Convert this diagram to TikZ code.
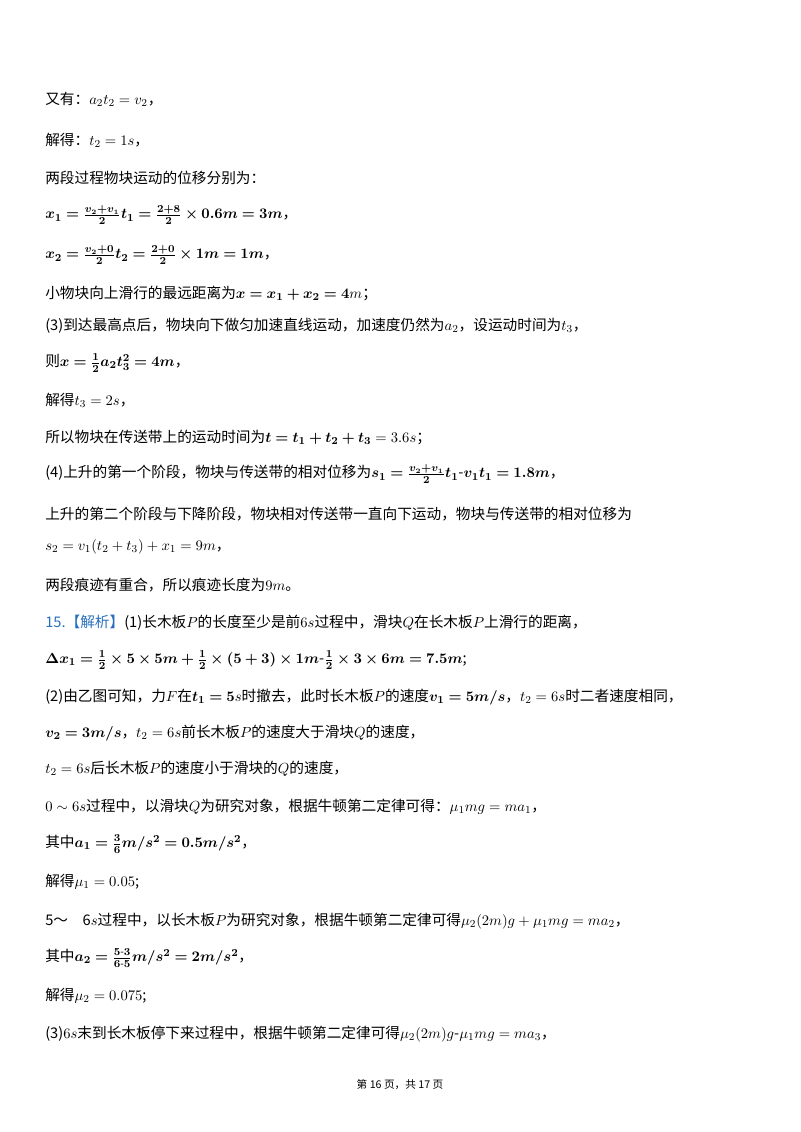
\documentclass[tikz,border=0pt]{standalone}
\usepackage{amsmath,bm}
\usepackage{fontspec}
\newfontfamily\cjk{Noto Sans CJK SC}
\definecolor{lblue}{RGB}{40,110,190}
\begin{document}
\begin{tikzpicture}[x=0.75pt,y=-0.75pt,
  ln/.style={anchor=west,inner sep=0pt,font=\cjk\fontsize{11}{13}\selectfont}]
\useasboundingbox (0,0) rectangle (800,1132);
\node[ln] (l1) at (45,99) {又有：$a_2t_2=v_2$，};
\node[ln] (l2) at (45,140) {解得：$t_2=1s$，};
\node[ln] (l3) at (45,178) {两段过程物块运动的位移分别为：};
\node[ln] (l4) at (45,215) {$\bm{x_1=\frac{v_2+v_1}{2}t_1=\frac{2+8}{2}\times0.6m=3m}$，};
\node[ln] (l5) at (45,255) {$\bm{x_2=\frac{v_2+0}{2}t_2=\frac{2+0}{2}\times1m=1m}$，};
\node[ln] (l6) at (45,293) {小物块向上滑行的最远距离为$\bm{x=x_1+x_2=4}m$；};
\node[ln] (l7) at (45,326) {(3)到达最高点后，物块向下做匀加速直线运动，加速度仍然为$a_2$，设运动时间为$t_3$，};
\node[ln] (l8) at (45,363) {则$\bm{x=\frac12a_2t_3^2=4m}$，};
\node[ln] (l9) at (45,400) {解得$t_3=2s$，};
\node[ln] (l10) at (45,437) {所以物块在传送带上的运动时间为$\bm{t=t_1+t_2+t_3}=3.6s$；};
\node[ln] (l11) at (45,474) {(4)上升的第一个阶段，物块与传送带的相对位移为$\bm{s_1=\frac{v_2+v_1}{2}t_1\text{-}v_1t_1=1.8m}$，};
\node[ln] (l12) at (45,514) {上升的第二个阶段与下降阶段，物块相对传送带一直向下运动，物块与传送带的相对位移为};
\node[ln] (l13) at (45,547) {$s_2=v_1(t_2+t_3)+x_1=9m$，};
\node[ln] (l14) at (45,585) {两段痕迹有重合，所以痕迹长度为$9m$。};
\node[ln] (l15) at (45,623) {{\color{lblue}15.【解析】}(1)长木板$P$的长度至少是前$6s$过程中，滑块$Q$在长木板$P$上滑行的距离，};
\node[ln] (l16) at (45,660) {$\bm{\Delta x_1=\frac12\times5\times5m+\frac12\times(5+3)\times1m\text{-}\frac12\times3\times6m=7.5m}$;};
\node[ln] (l17) at (45,697) {(2)由乙图可知，力$F$在$\bm{t_1=5}s$时撤去，此时长木板$P$的速度$\bm{v_1=5m/s}$，$t_2=6s$时二者速度相同，};
\node[ln] (l18) at (45,733) {$\bm{v_2=3m/s}$，$t_2=6s$前长木板$P$的速度大于滑块$Q$的速度，};
\node[ln] (l19) at (45,769) {$t_2=6s$后长木板$P$的速度小于滑块的$Q$的速度，};
\node[ln] (l20) at (45,807) {$0\sim6s$过程中，以滑块$Q$为研究对象，根据牛顿第二定律可得：$\mu_1mg=ma_1$，};
\node[ln] (l21) at (45,844) {其中$\bm{a_1=\frac36m/s^2=0.5m/s^2}$，};
\node[ln] (l22) at (45,882) {解得$\mu_1=0.05$;};
\node[ln] (l23) at (45,921) {5～\quad 6$s$过程中，以长木板$P$为研究对象，根据牛顿第二定律可得$\mu_2(2m)g+\mu_1mg=ma_2$，};
\node[ln] (l24) at (45,958) {其中$\bm{a_2=\frac{5\text{-}3}{6\text{-}5}m/s^2=2m/s^2}$，};
\node[ln] (l25) at (45,996) {解得$\mu_2=0.075$;};
\node[ln] (l26) at (45,1034) {(3)$6s$末到长木板停下来过程中，根据牛顿第二定律可得$\mu_2(2m)g\text{-}\mu_1mg=ma_3$，};
\node[anchor=center,inner sep=0pt,font=\cjk\fontsize{8}{10}\selectfont] (ft) at (400,1085) {第 16 页，共 17 页};
\end{tikzpicture}
\end{document}
